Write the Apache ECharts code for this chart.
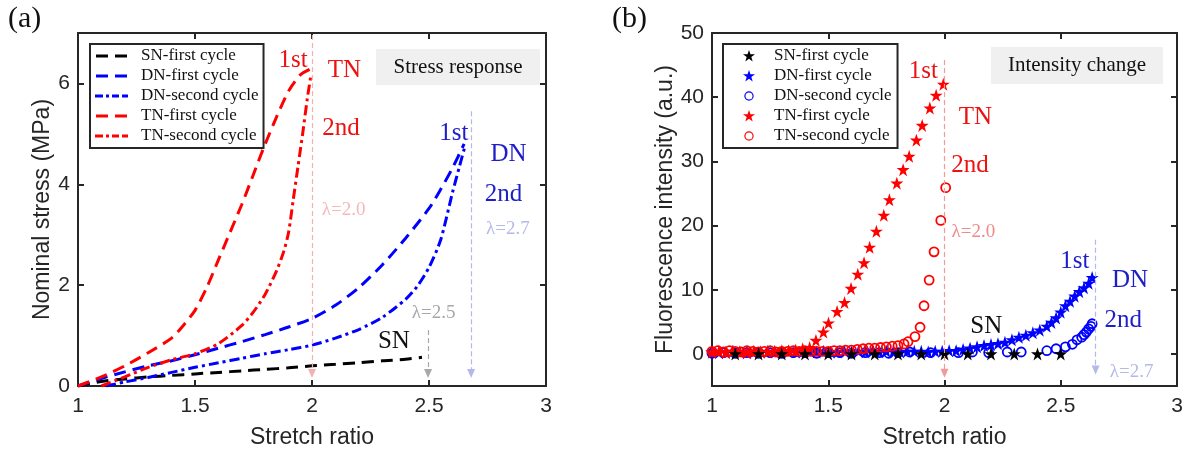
<!DOCTYPE html>
<html>
<head>
<meta charset="utf-8">
<script src="https://cdn.jsdelivr.net/npm/echarts@6/dist/echarts.min.js"></script>
<style>
html,body{margin:0;padding:0;background:#fff;}
#chart{width:1187px;height:454px;}
</style>
</head>
<body>
<div id="chart"></div>
<script>
// ---------- tick labels ----------
const xTicks = [1, 1.5, 2, 2.5, 3];
const stressTicks = [0, 2, 4, 6];
const intensityTicks = [0, 10, 20, 30, 40, 50];

// ---------- panel (a): stress response ----------
const snStressX = [1.0,1.1,1.2,1.3,1.4,1.5,1.6,1.7,1.8,1.9,2.0,2.1,2.2,2.3,2.4,2.47];
const snStressY = [0,0.09,0.14,0.18,0.21,0.24,0.27,0.30,0.33,0.36,0.40,0.43,0.46,0.50,0.53,0.57];

const dn1StressX = [1.0,1.1,1.2,1.3,1.4,1.5,1.6,1.7,1.8,1.9,2.0,2.1,2.2,2.3,2.4,2.5,2.55,2.6,2.65];
const dn1StressY = [0,0.15,0.28,0.40,0.50,0.62,0.75,0.88,1.02,1.17,1.34,1.60,1.95,2.40,2.93,3.52,3.90,4.32,4.80];

const dn2StressX = [1.12,1.2,1.3,1.4,1.5,1.6,1.7,1.8,1.9,2.0,2.1,2.2,2.3,2.4,2.45,2.5,2.55,2.6,2.63,2.655];
const dn2StressY = [0,0.08,0.17,0.27,0.37,0.46,0.55,0.64,0.72,0.81,0.95,1.12,1.36,1.72,1.98,2.35,2.90,3.83,4.35,4.78];

const tn1StressX = [1.0,1.1,1.2,1.3,1.4,1.45,1.5,1.55,1.6,1.65,1.7,1.75,1.8,1.85,1.9,1.95,1.99];
const tn1StressY = [0,0.18,0.40,0.66,0.95,1.20,1.50,1.95,2.50,3.05,3.60,4.20,4.80,5.35,5.85,6.17,6.28];

const tn2StressX = [1.1,1.2,1.3,1.4,1.5,1.6,1.7,1.75,1.8,1.85,1.88,1.9,1.92,1.94,1.96,1.98,1.995];
const tn2StressY = [0,0.18,0.37,0.52,0.64,0.84,1.20,1.47,1.82,2.30,2.68,3.05,3.70,4.35,5.00,5.70,6.15];

// ---------- panel (b): fluorescence intensity ----------
const snIntX = [1.1,1.2,1.3,1.4,1.5,1.6,1.7,1.8,1.9,2.0,2.1,2.2,2.3,2.4,2.5];
const snIntY = [0,0,0,0,0,0,0,0,0,0,0,0,0,0,0];

const dn1IntX = [1.00,1.03,1.06,1.09,1.12,1.15,1.18,1.21,1.24,1.27,1.30,1.33,1.36,1.39,1.42,1.45,1.48,1.51,1.54,1.57,1.60,1.63,1.66,1.69,1.72,1.75,1.78,1.81,1.84,1.87,1.90,1.93,1.96,1.99,2.02,2.05,2.08,2.11,2.14,2.17,2.20,2.23,2.26,2.29,2.32,2.35,2.38,2.41,2.44,2.46,2.48,2.50,2.52,2.54,2.56,2.58,2.60,2.62,2.635];
const dn1IntY = [0.3,0.2,0.3,0.4,0.3,0.2,0.3,0.3,0.4,0.3,0.3,0.4,0.3,0.3,0.4,0.3,0.4,0.3,0.3,0.4,0.3,0.4,0.3,0.4,0.3,0.4,0.4,0.3,0.4,0.4,0.4,0.3,0.4,0.4,0.5,0.5,0.7,0.9,1.1,1.3,1.45,1.6,1.8,2.2,2.6,2.9,3.3,3.7,4.3,4.9,5.6,6.5,7.5,8.2,9.0,9.7,10.3,11.0,11.9];

const dn2IntX = [1.00,1.05,1.10,1.15,1.20,1.25,1.30,1.35,1.40,1.45,1.50,1.55,1.60,1.66,1.72,1.76,1.80,1.85,1.94,2.06,2.12,2.19,2.27,2.33,2.44,2.48,2.52,2.55,2.57,2.59,2.60,2.61,2.62,2.63,2.635];
const dn2IntY = [0.1,0.2,0.1,0.2,0.1,0.2,0.1,0.2,0.2,0.1,0.2,0.2,0.1,0.2,0.2,0.1,0.2,0.3,0.2,0.2,0.3,0.2,0.3,0.3,0.5,0.8,1.1,1.5,2.2,2.6,3.0,3.4,3.9,4.3,4.7];

const tn1IntX = [1.00,1.03,1.06,1.09,1.12,1.15,1.18,1.21,1.24,1.27,1.30,1.33,1.36,1.39,1.42,1.447,1.479,1.501,1.538,1.570,1.598,1.627,1.654,1.678,1.707,1.739,1.763,1.795,1.822,1.848,1.879,1.904,1.937,1.964,1.995];
const tn1IntY = [0.3,0.4,0.2,0.4,0.3,0.2,0.4,0.3,0.3,0.4,0.5,0.5,0.6,0.8,1.0,2.1,3.4,4.8,6.6,8.0,10.2,12.4,14.2,16.6,19.1,21.6,24.0,26.6,28.7,30.8,33.3,35.6,38.3,40.3,42.0];

const tn2IntX = [1.000,1.025,1.050,1.075,1.100,1.125,1.150,1.175,1.200,1.225,1.250,1.275,1.300,1.325,1.350,1.375,1.400,1.425,1.450,1.475,1.500,1.525,1.550,1.575,1.600,1.625,1.650,1.675,1.700,1.725,1.750,1.775,1.800,1.826,1.843,1.873,1.895,1.912,1.934,1.955,1.984,2.005];
const tn2IntY = [0.4,0.5,0.3,0.5,0.4,0.3,0.5,0.4,0.3,0.4,0.5,0.3,0.4,0.4,0.5,0.4,0.5,0.4,0.4,0.4,0.4,0.5,0.5,0.6,0.6,0.7,0.8,0.9,0.9,1.0,1.1,1.2,1.3,1.56,1.9,2.7,4.15,7.5,11.5,15.9,20.8,25.9];

// ---------- annotations ----------
const arrowsA = [[2.0, 6.96, 0.25, '#f5b0b0'], [2.496, 1.11, 0.25, '#a8a8a8'], [2.68, 5.45, 0.25, '#b4b9ea']];
const arrowsB = [[2.0, 45.8, -3.0, '#f29a9a'], [2.65, 17.8, -2.5, '#b4b9ea']];
const textsA = [
  [1.919, 6.46, '1st', '#ee1111', 25], [2.138, 6.26, 'TN', '#ee1111', 25], [2.124, 5.10, '2nd', '#ee1111', 25],
  [2.135, 3.49, 'λ=2.0', '#f6b8b8', 19], [2.606, 5.0, '1st', '#1e1ec8', 25], [2.84, 4.59, 'DN', '#1e1ec8', 25],
  [2.818, 3.80, '2nd', '#1e1ec8', 25], [2.837, 3.12, 'λ=2.7', '#b4b9ea', 19], [2.52, 1.44, 'λ=2.5', '#a8a8a8', 19],
  [2.35, 0.88, 'SN', '#111111', 25]
];
const textsB = [
  [1.909, 44.0, '1st', '#ee1111', 25], [2.133, 36.8, 'TN', '#ee1111', 25], [2.11, 29.3, '2nd', '#ee1111', 25],
  [2.124, 18.95, 'λ=2.0', '#ee8a8a', 19], [2.561, 14.4, '1st', '#1e1ec8', 25], [2.798, 11.5, 'DN', '#1e1ec8', 25],
  [2.769, 5.28, '2nd', '#1e1ec8', 25], [2.805, -2.77, 'λ=2.7', '#b4b9ea', 19], [2.18, 4.24, 'SN', '#111111', 25]
];

const legendNames = ['SN-first cycle', 'DN-first cycle', 'DN-second cycle', 'TN-first cycle', 'TN-second cycle'];
const B = ' (b)';

function zip(xs, ys) { return xs.map((x, i) => [x, ys[i]]); }

const STAR = 'path://M12,0 L14.9,8.6 L24,8.6 L16.6,14 L19.4,22.8 L12,17.4 L4.6,22.8 L7.4,14 L0,8.6 L9.1,8.6 Z';
// legend icons drawn in their own box (tiny corner specks keep the box size)
const BOXA = 'M0,0 L0.01,0 L0,0.01 Z M33,14 L32.99,14 L33,13.99 Z ';
const ICON_DASH = 'path://' + BOXA + 'M1,5.6 L13,5.6 L13,8.4 L1,8.4 Z M20,5.6 L32,5.6 L32,8.4 L20,8.4 Z';
const ICON_DASHDOT = 'path://' + BOXA + 'M0,5.6 L8,5.6 L8,8.4 L0,8.4 Z M11,5.6 L14,5.6 L14,8.4 L11,8.4 Z M17,5.6 L24,5.6 L24,8.4 L17,8.4 Z M27,5.6 L33,5.6 L33,8.4 L27,8.4 Z';
const BOXB = 'M0,0 L0.01,0 L0,0.01 Z M14,14 L13.99,14 L14,13.99 Z ';
const ICON_STAR = 'path://' + BOXB + 'M7,1 L8.45,5.3 L13,5.3 L9.3,8 L10.7,12.4 L7,9.7 L3.3,12.4 L4.7,8 L1,5.3 L5.55,5.3 Z';
const ICON_RING = 'path://' + BOXB + 'M7,2.3 A4.7,4.7 0 1 1 6.99,2.3 Z M7,3.5 A3.5,3.5 0 1 0 7.01,3.5 Z';

const AX = '#262626';
const SANS = 'Liberation Sans';
const SERIF = 'Liberation Serif';
const DASH = [12, 7];
const DASHDOT = [10, 4, 3, 4];

function xAx(grid, top) {
  return {
    type: 'value', gridIndex: grid, min: 1, max: 3, interval: 0.5, position: top ? 'top' : 'bottom',
    axisLine: { show: true, onZero: false, lineStyle: { color: AX, width: 2 } },
    axisTick: { show: true, inside: true, length: 6, lineStyle: { color: AX, width: 2 } },
    axisLabel: { show: !top, color: AX, fontFamily: SANS, fontSize: 21, margin: 10 },
    splitLine: { show: false },
    name: top ? '' : 'Stretch ratio', nameLocation: 'middle', nameGap: 40,
    nameTextStyle: { color: AX, fontFamily: SANS, fontSize: 23 }
  };
}
function yAx(grid, right, min, max, ticks, name, gap) {
  return {
    type: 'value', gridIndex: grid, min: min, max: max, position: right ? 'right' : 'left',
    axisLine: { show: true, onZero: false, lineStyle: { color: AX, width: 2 } },
    axisTick: { show: true, inside: true, length: 6, customValues: ticks, lineStyle: { color: AX, width: 2 } },
    axisLabel: { show: !right, customValues: ticks, color: AX, fontFamily: SANS, fontSize: 21, margin: 8 },
    splitLine: { show: false },
    name: right ? '' : name, nameLocation: 'middle', nameGap: gap,
    nameTextStyle: { color: AX, fontFamily: SANS, fontSize: 23 }
  };
}

function lineS(name, xs, ys, color, type) {
  return {
    type: 'line', name: name, xAxisIndex: 0, yAxisIndex: 0, data: zip(xs, ys),
    symbol: 'none', smooth: 0.25,
    lineStyle: { color: color, width: 3, type: type }, itemStyle: { color: color }
  };
}
function scatS(name, xs, ys, color, star) {
  return {
    type: 'scatter', name: name + B, xAxisIndex: 2, yAxisIndex: 2, data: zip(xs, ys),
    symbol: star ? STAR : 'circle', symbolSize: star ? 13 : 9,
    itemStyle: star ? { color: color, opacity: 1 } : { color: 'rgba(0,0,0,0)', borderColor: color, borderWidth: 1.8, opacity: 1 }
  };
}
function annot(xi, yi, texts, arrows) {
  return {
    type: 'scatter', name: 'annot' + xi, xAxisIndex: xi, yAxisIndex: yi, symbolSize: 1, z: 10,
    itemStyle: { color: 'rgba(0,0,0,0)', opacity: 1 },
    data: texts.map(t => ({
      value: [t[0], t[1]],
      label: { show: true, position: 'inside', formatter: t[2], color: t[3], fontSize: t[4], fontFamily: SERIF,
               textBorderWidth: 0, textShadowBlur: 0, opacity: 1 }
    })),
    markLine: {
      silent: true, animation: false, symbol: ['none', 'triangle'], symbolSize: [8, 9], label: { show: false },
      data: arrows.map(a => [
        { coord: [a[0], a[1]], lineStyle: { color: a[3], width: 1.2, type: [5, 3], opacity: 1 }, itemStyle: { color: a[3] } },
        { coord: [a[0], a[2]] }
      ])
    }
  };
}

const legendColors = ['#000000', '#0000ff', '#0000ff', '#ff0000', '#ff0000'];
const legendIconsA = [ICON_DASH, ICON_DASH, ICON_DASHDOT, ICON_DASH, ICON_DASHDOT];
const legendIconsB = [ICON_STAR, ICON_STAR, ICON_RING, ICON_STAR, ICON_RING];

const chart = echarts.init(document.getElementById('chart'), null, { renderer: 'canvas' });
const legendCommon = {
  orient: 'vertical', top: 44, itemGap: 0, backgroundColor: '#fff', borderColor: AX, borderWidth: 2,
  textStyle: { fontFamily: SERIF, fontSize: 17, color: '#111', lineHeight: 20 }
};
chart.setOption({
  animation: false,
  backgroundColor: '#fff',
  grid: [
    { left: 78, top: 33, width: 468, height: 353 },
    { left: 712, top: 33, width: 465, height: 353 }
  ],
  xAxis: [xAx(0, false), xAx(0, true), xAx(1, false), xAx(1, true)],
  yAxis: [
    yAx(0, false, 0, 7, stressTicks, 'Nominal stress (MPa)', 21),
    yAx(0, true, 0, 7, stressTicks, '', 0),
    yAx(1, false, -5, 50, intensityTicks, 'Fluorescence intensity (a.u.)', 33),
    yAx(1, true, -5, 50, intensityTicks, '', 0)
  ],
  legend: [
    Object.assign({}, legendCommon, {
      left: 90, itemWidth: 33, itemHeight: 14,
      data: legendNames.map((n, i) => ({ name: n, icon: legendIconsA[i],
        itemStyle: { color: legendColors[i], borderWidth: 0, opacity: 1 } })),
      padding: [2, 5, 2, 5], textStyle: Object.assign({}, legendCommon.textStyle, { padding: [0, 0, 0, 8] })
    }),
    Object.assign({}, legendCommon, {
      left: 723, itemWidth: 14, itemHeight: 14,
      data: legendNames.map((n, i) => ({ name: n + B, icon: legendIconsB[i],
        itemStyle: { color: legendColors[i], borderWidth: 0, opacity: 1 } })),
      padding: [2, 6, 2, 19], formatter: n => n.replace(B, ''),
      textStyle: Object.assign({}, legendCommon.textStyle, { padding: [0, 0, 0, 13] })
    })
  ],
  graphic: [
    { type: 'text', left: 8, top: 4, style: { text: '(a)', font: '30px "Liberation Serif"', fill: '#111' } },
    { type: 'text', left: 612, top: 4, style: { text: '(b)', font: '30px "Liberation Serif"', fill: '#111' } },
    { type: 'group', left: 376, top: 49, children: [
      { type: 'rect', shape: { x: 0, y: 0, width: 164, height: 36 }, style: { fill: '#f0f0f0' } },
      { type: 'text', x: 82, y: 18, style: { text: 'Stress response', font: '21px "Liberation Serif"', fill: '#111', align: 'center', verticalAlign: 'middle' } }
    ]},
    { type: 'group', left: 991, top: 47, children: [
      { type: 'rect', shape: { x: 0, y: 0, width: 172, height: 37 }, style: { fill: '#f0f0f0' } },
      { type: 'text', x: 86, y: 18, style: { text: 'Intensity change', font: '21px "Liberation Serif"', fill: '#111', align: 'center', verticalAlign: 'middle' } }
    ]}
  ],
  series: [
    lineS('SN-first cycle', snStressX, snStressY, '#000000', DASH),
    lineS('DN-first cycle', dn1StressX, dn1StressY, '#0000ff', DASH),
    lineS('DN-second cycle', dn2StressX, dn2StressY, '#0000ff', DASHDOT),
    lineS('TN-first cycle', tn1StressX, tn1StressY, '#ff0000', DASH),
    lineS('TN-second cycle', tn2StressX, tn2StressY, '#ff0000', DASHDOT),
    scatS('DN-first cycle', dn1IntX, dn1IntY, '#0000ff', true),
    scatS('DN-second cycle', dn2IntX, dn2IntY, '#0000ff', false),
    scatS('TN-first cycle', tn1IntX, tn1IntY, '#ff0000', true),
    scatS('TN-second cycle', tn2IntX, tn2IntY, '#ff0000', false),
    scatS('SN-first cycle', snIntX, snIntY, '#000000', true),
    annot(0, 0, textsA, arrowsA),
    annot(2, 2, textsB, arrowsB)
  ]
});
</script>
</body>
</html>
